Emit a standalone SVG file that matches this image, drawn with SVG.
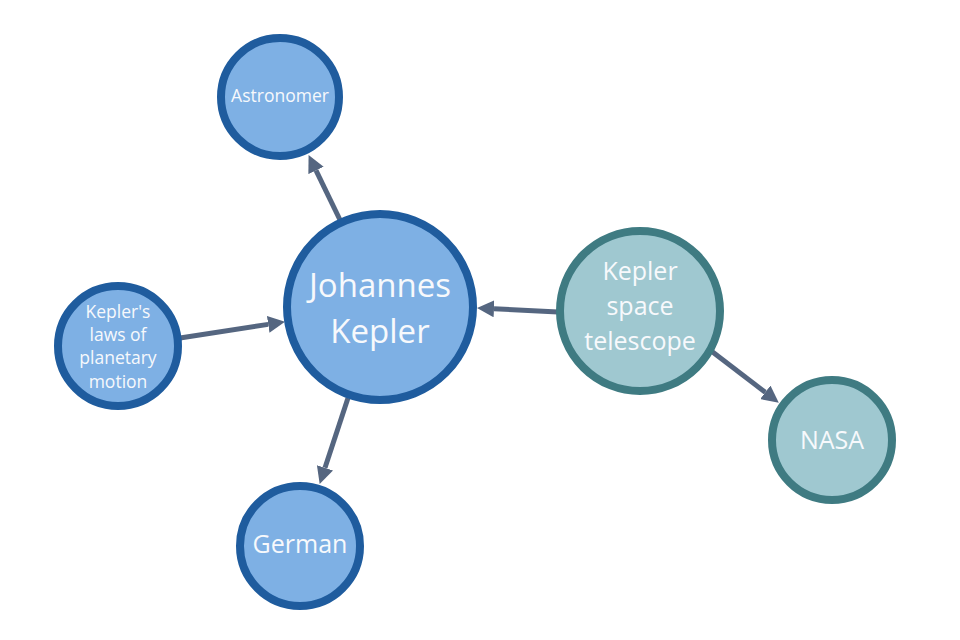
<svg xmlns="http://www.w3.org/2000/svg" width="960" height="640" viewBox="0 0 960 640">
<style>
.blue{fill:#7eb0e4;stroke:#1f5c9e;stroke-width:8}
.teal{fill:#9fc8d0;stroke:#3f7b82;stroke-width:8}
.t{font-family:"Open Sans","Noto Sans",sans-serif;fill:#f7f9fc;text-anchor:middle}
.edge{stroke:#556680;stroke-width:5;fill:none;marker-end:url(#ah)}
</style>
<defs>
<marker id="ah" viewBox="0 0 16 16" refX="0" refY="8" markerWidth="17" markerHeight="17" markerUnits="userSpaceOnUse" orient="auto">
<path d="M0,0 L16,8 L0,16 z" fill="#556680"/>
</marker>
</defs>
<rect width="960" height="640" fill="#ffffff"/>
<g id="connectors">
<line class="edge" x1="341" y1="222" x2="316" y2="170.4"/>
<line class="edge" x1="180" y1="338" x2="268.2" y2="324.4"/>
<line class="edge" x1="348" y1="398" x2="325" y2="467.8"/>
<line class="edge" x1="558" y1="312" x2="494" y2="308.8"/>
<line class="edge" x1="710" y1="350" x2="765.3" y2="392.3"/>
</g>
<g id="astronomer">
<circle class="blue" cx="280" cy="97" r="59"/>
<text class="t" x="280" y="102" font-size="17.5">Astronomer</text>
</g>
<g id="johannes-kepler">
<circle class="blue" cx="380" cy="307" r="93"/>
<text class="t" x="380" y="297" font-size="33">Johannes</text>
<text class="t" x="380" y="343" font-size="33">Kepler</text>
</g>
<g id="keplers-laws">
<circle class="blue" cx="118" cy="346" r="60"/>
<text class="t" x="118" y="318" font-size="17.5">Kepler's</text>
<text class="t" x="118" y="341" font-size="17.5">laws of</text>
<text class="t" x="118" y="364" font-size="17.5">planetary</text>
<text class="t" x="118" y="388" font-size="17.5">motion</text>
</g>
<g id="german">
<circle class="blue" cx="300" cy="546" r="60"/>
<text class="t" x="300" y="553" font-size="25">German</text>
</g>
<g id="kepler-space-telescope">
<circle class="teal" cx="640" cy="311" r="80"/>
<text class="t" x="640" y="280" font-size="25">Kepler</text>
<text class="t" x="640" y="315" font-size="25">space</text>
<text class="t" x="640" y="350" font-size="25">telescope</text>
</g>
<g id="nasa">
<circle class="teal" cx="832" cy="440" r="60"/>
<text class="t" x="832" y="449" font-size="25">NASA</text>
</g>
</svg>
